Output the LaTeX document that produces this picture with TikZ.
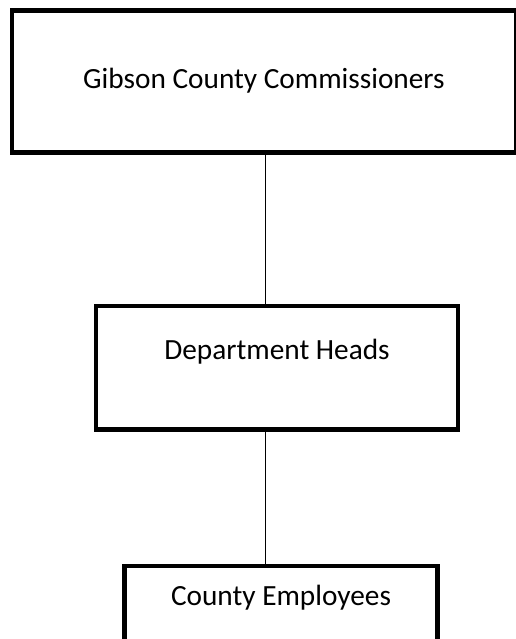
\documentclass[tikz,border=0pt]{standalone}
\usepackage{fontspec}
\setmainfont{Carlito}
\usetikzlibrary{positioning}

\tikzset{
  orgbox/.style={draw, rectangle, line width=4.5pt, inner sep=0pt},
  orgtext/.style={anchor=base, font=\fontsize{29.3}{33}\selectfont},
  orgline/.style={line width=1.5pt}
}

\begin{document}
\begin{tikzpicture}[x=1pt,y=-1pt]
  \useasboundingbox (0,0) rectangle (515,639);

  % boxes
  \node[orgbox, minimum width=504pt, minimum height=142pt] (comm) at (264,81.5) {};
  \node[orgbox, minimum width=361.7pt, minimum height=123.7pt,
        below=149pt of comm, xshift=13pt] (heads) {};
  \node[orgbox, minimum width=313.2pt, minimum height=124pt,
        below=132pt of heads, xshift=4pt] (staff) {};

  % texts
  \node[orgtext] (commtext) at ([yshift=-80pt]comm.north) {Gibson County Commissioners};
  \node[orgtext] (headstext) at ([yshift=-56pt]heads.north) {Department Heads};
  \node[orgtext] (stafftext) at ([yshift=-42pt]staff.north) {County Employees};

  % connectors
  \coordinate (spine) at (265.5,0);
  \draw[orgline] (comm.south -| spine) -- (heads.north -| spine);
  \draw[orgline] (heads.south -| spine) -- (staff.north -| spine);
\end{tikzpicture}
\end{document}
